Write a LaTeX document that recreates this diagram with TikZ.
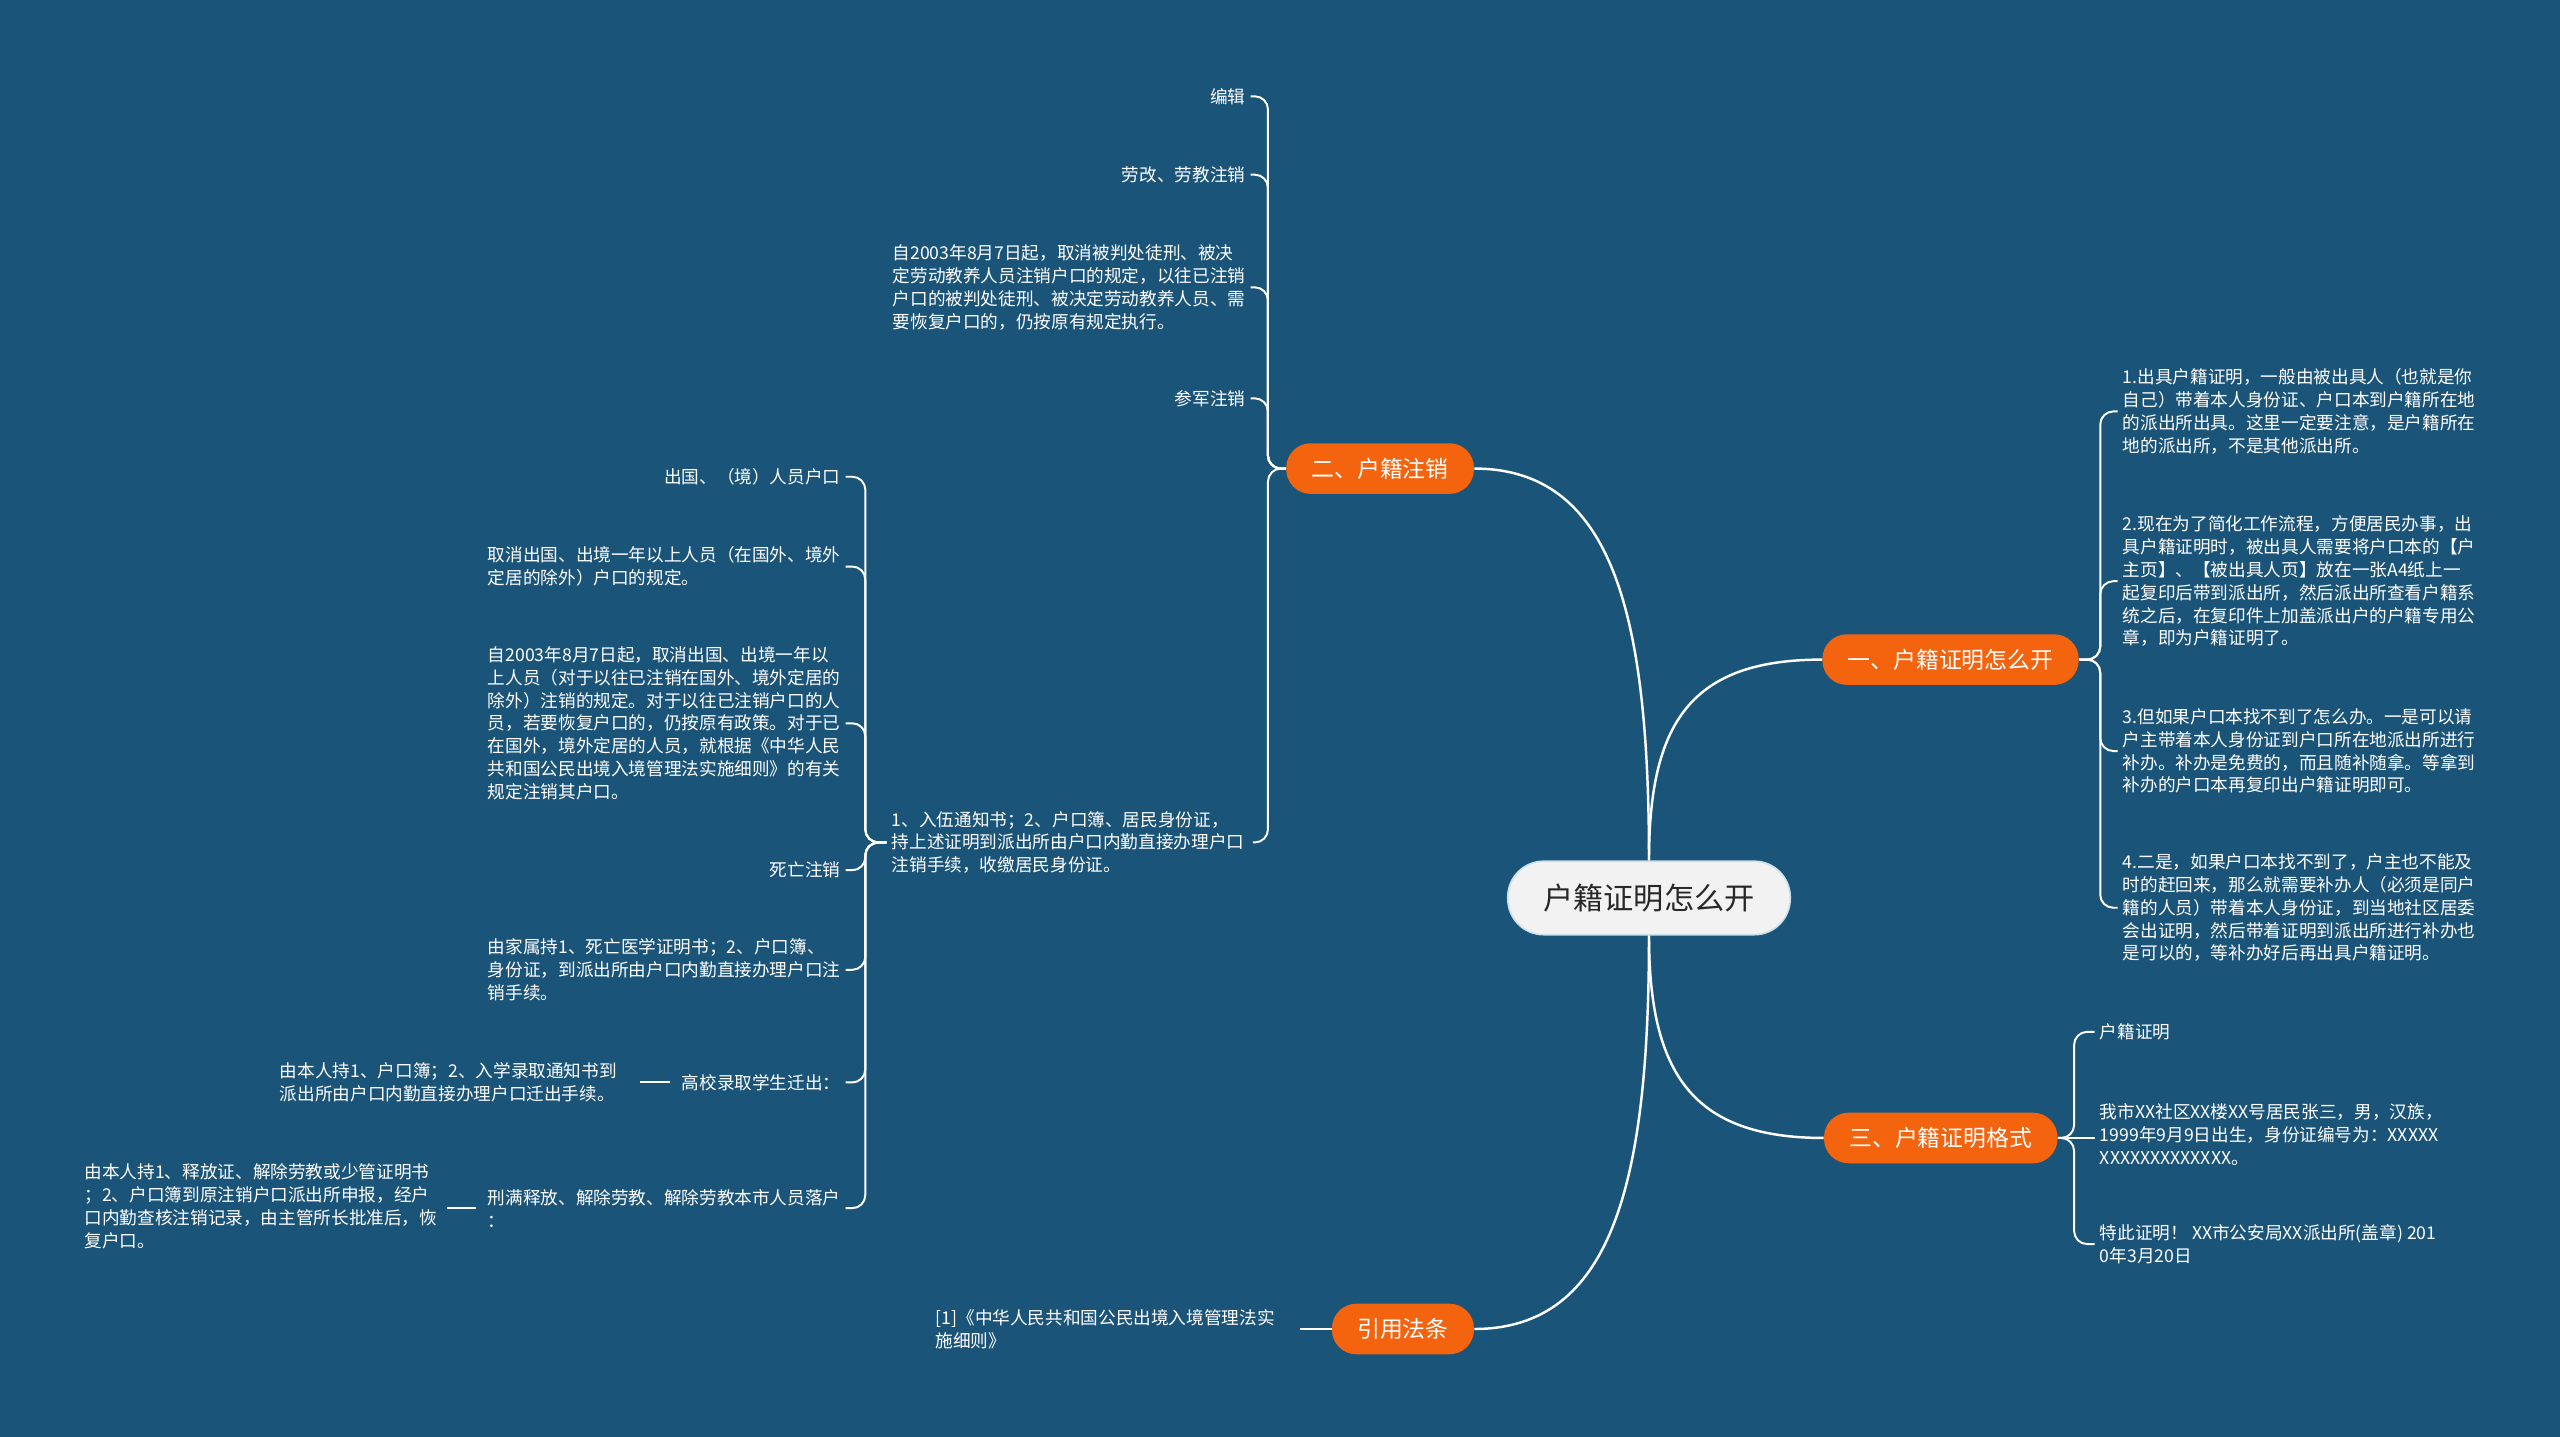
\documentclass[tikz,border=0pt]{standalone}
\usepackage{fontspec}
\usetikzlibrary{calc}
\setmainfont{Noto Sans CJK SC}
\definecolor{bg}{RGB}{27,84,121}
\definecolor{org}{RGB}{244,99,14}
\definecolor{rootfill}{RGB}{242,242,242}
\definecolor{roottext}{RGB}{40,40,40}
\definecolor{rootline}{RGB}{205,225,236}
\begin{document}
\begin{tikzpicture}[x=1pt,y=-1pt,
  txt/.style={font=\fontsize{10.8}{14}\selectfont, text=white, inner xsep=3pt, inner ysep=0pt, align=left},
  ltxt/.style={txt, anchor=east},
  rtxt/.style={txt, anchor=west},
  br/.style={draw=white, line width=1.2pt, rounded corners=8pt},
  plain/.style={draw=white, line width=1.2pt},
  mainline/.style={draw=white, line width=1.5pt},
  branch/.style={fill=org, text=white, rounded corners=15pt, minimum height=31pt, inner xsep=15.5pt, inner ysep=0pt, font=\fontsize{14}{16}\selectfont},
  rootnode/.style={draw=rootline, line width=1pt, fill=rootfill, text=roottext, rounded corners=22pt, minimum width=173pt, minimum height=45pt, font=\fontsize{18.5}{20}\selectfont}
]
\fill[bg] (0,0) rectangle (1568,880);
\useasboundingbox (0,0) rectangle (1568,880);

% root and branches
\node[rootnode] (root) at (1010,550) {户籍证明怎么开};
\node[branch, anchor=west] (b1) at (1116,404) {一、户籍证明怎么开};
\node[branch, anchor=east] (b2) at (903,287) {二、户籍注销};
\node[branch, anchor=west] (b3) at (1117,697) {三、户籍证明格式};
\node[branch, anchor=east] (b4) at (903,814) {引用法条};

% branch 二 children
\node[ltxt] (e1) at (766,59) {编辑};
\node[ltxt] (e2) at (766,107) {劳改、劳教注销};
\node[ltxt] (e3) at (766,176) {自2003年8月7日起，取消被判处徒刑、被决\\定劳动教养人员注销户口的规定，以往已注销\\户口的被判处徒刑、被决定劳动教养人员、需\\要恢复户口的，仍按原有规定执行。};
\node[ltxt] (e4) at (766,244) {参军注销};
\node[rtxt] (e5) at (543,516) {1、入伍通知书；2、户口簿、居民身份证，\\持上述证明到派出所由户口内勤直接办理户口\\注销手续，收缴居民身份证。};

% children of e5
\node[ltxt] (f1) at (518,292) {出国、（境）人员户口};
\node[ltxt] (f2) at (518,347) {取消出国、出境一年以上人员（在国外、境外\\定居的除外）户口的规定。};
\node[ltxt] (f3) at (518,443) {自2003年8月7日起，取消出国、出境一年以\\上人员（对于以往已注销在国外、境外定居的\\除外）注销的规定。对于以往已注销户口的人\\员，若要恢复户口的，仍按原有政策。对于已\\在国外，境外定居的人员，就根据《中华人民\\共和国公民出境入境管理法实施细则》的有关\\规定注销其户口。};
\node[ltxt] (f4) at (518,533) {死亡注销};
\node[ltxt] (f5) at (518,594) {由家属持1、死亡医学证明书；2、户口簿、\\身份证，到派出所由户口内勤直接办理户口注\\销手续。};
\node[ltxt] (f6) at (518,663) {高校录取学生迁出：};
\node[ltxt] (f7) at (518,740) {刑满释放、解除劳教、解除劳教本市人员落户\\：};
\node[ltxt] (g6) at (381,663) {由本人持1、户口簿；2、入学录取通知书到\\派出所由户口内勤直接办理户口迁出手续。};
\node[ltxt] (g7) at (271,739) {由本人持1、释放证、解除劳教或少管证明书\\；2、户口簿到原注销户口派出所申报，经户\\口内勤查核注销记录，由主管所长批准后，恢\\复户口。};

% branch 一 children
\node[rtxt] (h1) at (1297,252) {1.出具户籍证明，一般由被出具人（也就是你\\自己）带着本人身份证、户口本到户籍所在地\\的派出所出具。这里一定要注意，是户籍所在\\地的派出所，不是其他派出所。};
\node[rtxt] (h2) at (1297,356) {2.现在为了简化工作流程，方便居民办事，出\\具户籍证明时，被出具人需要将户口本的【户\\主页】、【被出具人页】放在一张A4纸上一\\起复印后带到派出所，然后派出所查看户籍系\\统之后，在复印件上加盖派出户的户籍专用公\\章，即为户籍证明了。};
\node[rtxt] (h3) at (1297,460) {3.但如果户口本找不到了怎么办。一是可以请\\户主带着本人身份证到户口所在地派出所进行\\补办。补办是免费的，而且随补随拿。等拿到\\补办的户口本再复印出户籍证明即可。};
\node[rtxt] (h4) at (1297,556) {4.二是，如果户口本找不到了，户主也不能及\\时的赶回来，那么就需要补办人（必须是同户\\籍的人员）带着本人身份证，到当地社区居委\\会出证明，然后带着证明到派出所进行补办也\\是可以的，等补办好后再出具户籍证明。};

% branch 三 children
\node[rtxt] (k1) at (1283,632) {户籍证明};
\node[rtxt] (k2) at (1283,695) {我市XX社区XX楼XX号居民张三，男，汉族，\\1999年9月9日出生，身份证编号为：XXXXX\\XXXXXXXXXXXXX。};
\node[rtxt] (k3) at (1283,762) {特此证明！~XX市公安局XX派出所(盖章) 201\\0年3月20日};

% citation
\node[ltxt] (c1) at (784,814) {[1]《中华人民共和国公民出境入境管理法实\\施细则》};

% root connectors
\draw[mainline] (root.north) .. controls +(0,-150) and +(85,0) .. (b2.east);
\draw[mainline] (root.north) .. controls +(0,-85) and +(-80,0) .. (b1.west);
\draw[mainline] (root.south) .. controls +(0,85) and +(-80,0) .. (b3.west);
\draw[mainline] (root.south) .. controls +(0,150) and +(85,0) .. (b4.east);

% branch 二 bracket
\foreach \c in {e1,e2,e3,e4}{
  \draw[br] (b2.west) -- ++(-11,0) |- (\c.east);
}
\draw[br] (b2.west) -- ++(-11,0) |- ($(e5.east)+(2,0)$);

% e5 bracket
\foreach \c in {f1,f2,f3,f4,f5,f6,f7}{
  \draw[br] (e5.west) -- ++(-13,0) |- (\c.east);
}
\draw[plain, shorten <=4pt, shorten >=11pt] (f6.west) -- (g6.east |- f6.west);
\draw[plain, shorten <=4pt, shorten >=3pt] (f7.west |- f7.center) -- (g7.east |- f7.center);

% branch 一 bracket
\foreach \c in {h1,h2,h3,h4}{
  \draw[br] (b1.east) -- ++(13,0) |- (\c.west);
}

% branch 三 bracket
\draw[br] (b3.east) -- ++(10,0) |- (k1.west);
\draw[plain] (b3.east) -- (b3.east -| k2.west);
\draw[br] (b3.east) -- ++(10,0) |- (k3.west);

% citation connector
\draw[plain, shorten >=12pt] (b4.west) -- (c1.east |- b4.west);
\end{tikzpicture}
\end{document}
